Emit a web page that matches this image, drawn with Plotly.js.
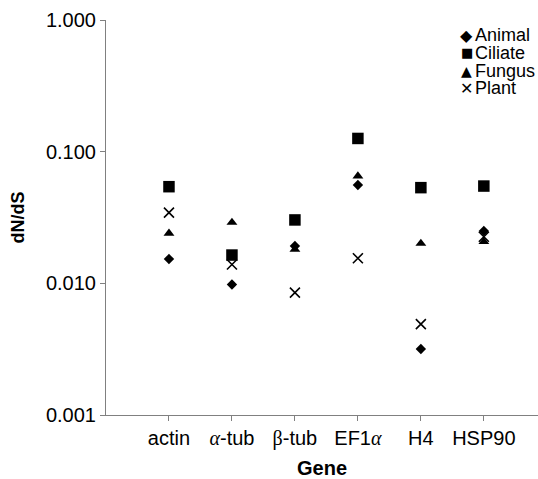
<!DOCTYPE html>
<html><head><meta charset="utf-8">
<script src="https://cdn.plot.ly/plotly-3.0.1.min.js"></script>
<style>html,body{margin:0;padding:0;background:#fff;}#chart{width:538px;height:479px;}</style>
</head><body><div id="chart"></div>
<script>
const genes = ["actin", "α-tub", "β-tub", "EF1α", "H4", "HSP90"];
const geneLabels = ["actin",
  "<span style='font-family:Liberation Serif;font-style:italic'>α</span>-tub",
  "<span style='font-family:Liberation Serif'>β</span>-tub",
  "EF1<span style='font-family:Liberation Serif;font-style:italic'>α</span>",
  "H4", "HSP90"];
const seriesNames = ["Animal", "Ciliate", "Fungus", "Plant"];
const animal  = [0.0153, 0.0098, 0.0192, 0.0558, 0.00317, 0.0250];
const ciliate = [0.0542, 0.0164, 0.0303, 0.126, 0.0533, 0.0548];
const fungus  = [0.0240, 0.0290, 0.0181, 0.0653, 0.0201, 0.0207];
const plant   = [0.0344, 0.0139, 0.0085, 0.0155, 0.0049, 0.0226];
const yTickVals = [0.001, 0.01, 0.1, 1];
const yTickText = ["0.001", "0.010", "0.100", "1.000"];

const seriesValues = [animal, ciliate, fungus, plant];
const markerStyles = [
  {symbol: "diamond", size: 8, color: "#000"},
  {symbol: "square", size: 11.5, color: "#000"},
  {symbol: "triangle-up", size: 9.5, color: "#000"},
  {symbol: "x-thin-open", size: 10, color: "#000", line: {width: 1.6, color: "#000"}}
];
const legendGlyphs = ["◆", "■", "▲", "✕"];
const legendGlyphSizes = [16, 13, 14, 16];

const traces = seriesValues.map((vals, i) => ({
  type: "scatter", mode: "markers", name: seriesNames[i],
  x: genes, y: vals, marker: markerStyles[i], cliponaxis: false
}));

const legY = [0.962, 0.917, 0.872, 0.827];
const annotations = [];
seriesNames.forEach((n, i) => {
  annotations.push({xref: "paper", yref: "paper", x: 0.8356, y: legY[i], text: legendGlyphs[i],
    showarrow: false, xanchor: "center", yanchor: "middle",
    font: {family: "DejaVu Sans", size: legendGlyphSizes[i], color: "#000"}});
  annotations.push({xref: "paper", yref: "paper", x: 0.8495, y: legY[i], text: n,
    showarrow: false, xanchor: "left", yanchor: "middle",
    font: {family: "Liberation Sans, Arial, sans-serif", size: 18, color: "#000"}});
});

const layout = {
  width: 538, height: 479,
  margin: {l: 106, r: 0, t: 20, b: 64},
  paper_bgcolor: "#fff", plot_bgcolor: "#fff",
  showlegend: false,
  font: {family: "Liberation Sans, Arial, sans-serif", color: "#000", size: 20},
  xaxis: {
    type: "category", range: [-1, 5.86],
    tickvals: genes, ticktext: geneLabels,
    showline: true, linecolor: "#808080", linewidth: 1,
    ticks: "outside", ticklen: 5, tickcolor: "#808080",
    showgrid: false, zeroline: false,
    tickfont: {size: 20},
    title: {text: "<b>Gene</b>", font: {size: 20}, standoff: 14}
  },
  yaxis: {
    type: "log", range: [-3, 0],
    tickvals: yTickVals, ticktext: yTickText,
    showline: true, linecolor: "#808080", linewidth: 1,
    ticks: "outside", ticklen: 5, tickcolor: "#808080",
    showgrid: false, zeroline: false,
    tickfont: {size: 20},
    title: {text: "<b>dN/dS</b>", font: {size: 18}, standoff: 16}
  },
  annotations: annotations
};
Plotly.newPlot("chart", traces, layout, {displayModeBar: false, staticPlot: true});
</script></body></html>
